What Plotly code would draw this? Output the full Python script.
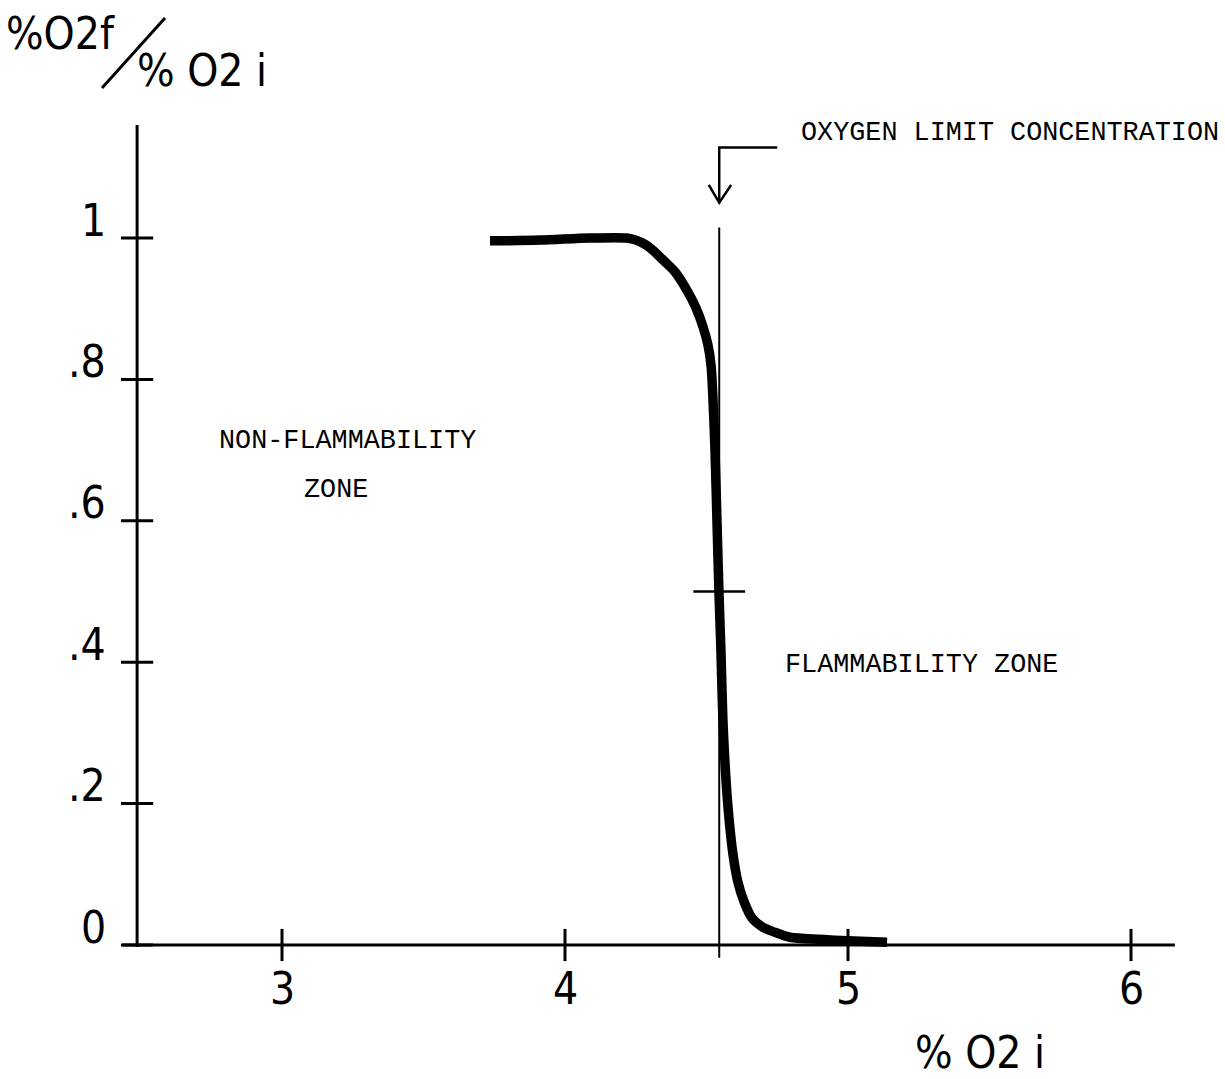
import plotly.graph_objects as go

# Measured curve: final / initial oxygen ratio against initial oxygen (%)
o2_initial = [3.735, 3.912, 4.088, 4.219, 4.251, 4.283, 4.310, 4.336, 4.362,
              4.389, 4.431, 4.463, 4.488, 4.505, 4.516, 4.523, 4.530, 4.537,
              4.544, 4.551, 4.558, 4.569, 4.580, 4.594, 4.611, 4.633, 4.661,
              4.700, 4.742, 4.795, 4.901, 5.000, 5.138]
o2_ratio = [0.996, 0.997, 1.0, 1.0, 0.997, 0.991, 0.983, 0.973, 0.963,
            0.952, 0.926, 0.901, 0.874, 0.849, 0.820, 0.771, 0.700, 0.600,
            0.499, 0.417, 0.318, 0.233, 0.177, 0.127, 0.089, 0.061, 0.038,
            0.025, 0.018, 0.011, 0.008, 0.006, 0.004]

# Oxygen limit concentration (ratio = 0.5)
olc_x = 4.545
olc_y = 0.5

x_ticks = [3, 4, 5, 6]
x_tick_text = ["3", "4", "5", "6"]
y_ticks = [0, 0.2, 0.4, 0.6, 0.8, 1.0]
y_tick_text = ["0", ".2", ".4", ".6", ".8", "1"]

# Axis extents (data units)
x_axis_start, x_axis_end = 2.435, 6.155
y_axis_pos = 2.488
y_axis_top = 1.16

HAND = "Liberation Sans Narrow, DejaVu Sans Condensed, Arial Narrow, sans-serif"
TYPE = "Liberation Mono, Courier New, monospace"

fig = go.Figure()

# the curve
fig.add_trace(go.Scatter(
    x=o2_initial, y=o2_ratio, mode="lines",
    line=dict(color="black", width=9.5, shape="spline", smoothing=0.8),
    hoverinfo="skip", showlegend=False))

# crossing tick marks on the x axis
fig.add_trace(go.Scatter(
    x=x_ticks, y=[0] * len(x_ticks), mode="markers",
    marker=dict(symbol="line-ns", size=23, line=dict(color="black", width=3)),
    hoverinfo="skip", showlegend=False))

# crossing tick marks on the y axis
fig.add_trace(go.Scatter(
    x=[y_axis_pos] * len(y_ticks), y=y_ticks, mode="markers",
    marker=dict(symbol="line-ew", size=23, line=dict(color="black", width=3)),
    hoverinfo="skip", showlegend=False))

# mark at the limit point
fig.add_trace(go.Scatter(
    x=[olc_x], y=[olc_y], mode="markers",
    marker=dict(symbol="line-ew", size=37, line=dict(color="black", width=2.5)),
    hoverinfo="skip", showlegend=False))

shapes = [
    # x axis
    dict(type="line", x0=x_axis_start, x1=x_axis_end, y0=0, y1=0,
         line=dict(color="black", width=3)),
    # y axis
    dict(type="line", x0=y_axis_pos, x1=y_axis_pos, y0=-0.003, y1=y_axis_top,
         line=dict(color="black", width=3)),
    # vertical line at the oxygen limit concentration
    dict(type="line", x0=olc_x, x1=olc_x, y0=-0.018, y1=1.015,
         line=dict(color="black", width=2)),
    # bent pointer towards the limit line
    dict(type="path",
         path=f"M {olc_x + 0.205} 1.128 L {olc_x} 1.128 L {olc_x} 1.05",
         line=dict(color="black", width=2.5)),
    dict(type="path",
         path=f"M {olc_x - 0.037} 1.075 L {olc_x} 1.05 L {olc_x + 0.042} 1.075",
         line=dict(color="black", width=2.5)),
    # slash in the ratio label
    dict(type="line", xref="paper", yref="paper",
         x0=102 / 1225, y0=1 - 88 / 1079, x1=165 / 1225, y1=1 - 18 / 1079,
         line=dict(color="black", width=3)),
]


def paper_text(px, py, text, family, size):
    return dict(x=px / 1225, y=1 - py / 1079, xref="paper", yref="paper",
                text=text, showarrow=False, xanchor="center", yanchor="middle",
                font=dict(family=family, size=size, color="black"))


annotations = []
for v, t in zip(y_ticks, y_tick_text):
    annotations.append(dict(x=2.385, y=v, text=t, showarrow=False,
                            xanchor="right", yanchor="middle", yshift=18,
                            font=dict(family=HAND, size=44, color="black")))
for v, t in zip(x_ticks, x_tick_text):
    annotations.append(dict(x=v, y=-0.062, text=t, showarrow=False,
                            xanchor="center", yanchor="middle",
                            font=dict(family=HAND, size=44, color="black")))

annotations += [
    paper_text(1010, 133, "OXYGEN LIMIT CONCENTRATION", TYPE, 26.8),
    paper_text(347, 441, "NON-FLAMMABILITY", TYPE, 26.8),
    paper_text(336, 490, "ZONE", TYPE, 26.8),
    paper_text(921, 665, "FLAMMABILITY ZONE", TYPE, 26.8),
    # y-axis title: %O2f / %O2i
    paper_text(60, 34, "%O2f", HAND, 44),
    paper_text(202, 70, "% O2 i", HAND, 44),
    # x-axis title
    paper_text(980, 1052, "% O2 i", HAND, 44),
]

fig.update_layout(
    width=1225, height=1079,
    margin=dict(l=0, r=0, t=0, b=0),
    paper_bgcolor="white", plot_bgcolor="white",
    shapes=shapes, annotations=annotations,
    xaxis=dict(range=[3 - 282 / 283, 3 + 943 / 283], visible=False, fixedrange=True),
    yaxis=dict(range=[-134 / 707, 945 / 707], visible=False, fixedrange=True),
    showlegend=False,
)

fig.write_html("out.html")
